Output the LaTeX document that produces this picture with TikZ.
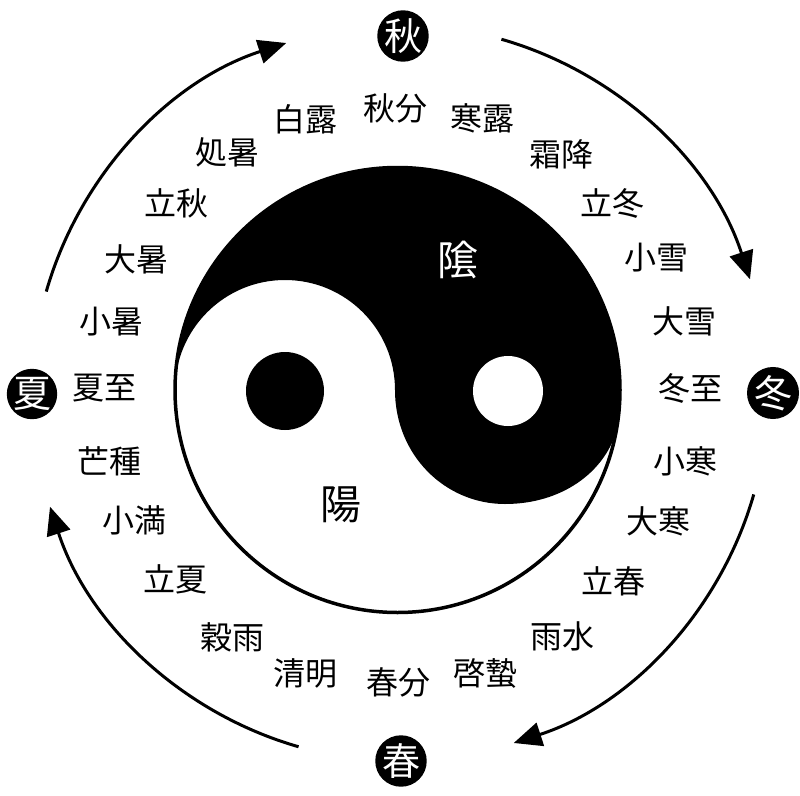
\documentclass[tikz,border=0pt]{standalone}
\usepackage{fontspec}
\newfontfamily\jp{Noto Sans CJK JP}
\usetikzlibrary{arrows.meta}
\begin{document}
\begin{tikzpicture}[x=1pt,y=-1pt,
  term/.style={font=\jp\fontsize{32}{34}\selectfont, inner sep=0pt},
  season/.style={circle, fill=black, minimum size=50pt, inner sep=0pt, text=white, font=\jp\fontsize{38}{40}\selectfont},
  big/.style={font=\jp\fontsize{41}{43}\selectfont, inner sep=0pt},
  cyclearrow/.style={line width=3pt, -{Triangle[length=28pt,width=24pt]}}
]
\useasboundingbox (0,0) rectangle (800,795);
% cycle arrows
\coordinate (C) at (400,393);
\draw[cyclearrow] ([shift={(-164:368)}]C) arc[start angle=-164, end angle=-108, radius=368];
\draw[cyclearrow] ([shift={(-74:368)}]C) arc[start angle=-74, end angle=-18, radius=368];
\draw[cyclearrow] ([shift={(16:368)}]C) arc[start angle=16, end angle=72, radius=368];
\draw[cyclearrow] ([shift={(106:368)}]C) arc[start angle=106, end angle=162, radius=368];
% yin-yang
\fill (395,390) arc[start angle=0, end angle=-180, radius=110]
  arc[start angle=180, end angle=370.9, radius=222.5]
  .. controls (604,472) and (562,504) .. (505,504)
  .. controls (445,504) and (395,455) .. (395,390) -- cycle;
\draw[line width=3.5pt] (397.5,390) circle[radius=222.5];
\fill (285,391) circle[radius=39];
\fill[white] (508,391) circle[radius=35];
\node[big, text=white] (yin) at (458,260) {隂};
\node[big] (yang) at (341,505) {陽};
% seasons
\node[season] (sAut) at (403,36) {秋};
\node[season] (sWin) at (773,393) {冬};
\node[season] (sSpr) at (401,761) {春};
\node[season] (sSum) at (32,394) {夏};
% solar terms
\node[term] (t01) at (395,108) {秋分};
\node[term] (t02) at (482,118) {寒露};
\node[term] (t03) at (561,154) {霜降};
\node[term] (t04) at (612,203) {立冬};
\node[term] (t05) at (656,258) {小雪};
\node[term] (t06) at (684,321) {大雪};
\node[term] (t07) at (690,388) {冬至};
\node[term] (t08) at (685,461) {小寒};
\node[term] (t09) at (658,521) {大寒};
\node[term] (t10) at (613,581) {立春};
\node[term] (t11) at (562,636) {雨水};
\node[term] (t12) at (485,673) {啓蟄};
\node[term] (t13) at (398,682) {春分};
\node[term] (t14) at (305,673) {清明};
\node[term] (t15) at (232,637) {穀雨};
\node[term] (t16) at (175,579) {立夏};
\node[term] (t17) at (134,520) {小満};
\node[term] (t18) at (109,461) {芒種};
\node[term] (t19) at (104,388) {夏至};
\node[term] (t20) at (111,322) {小暑};
\node[term] (t21) at (136,259) {大暑};
\node[term] (t22) at (176,203) {立秋};
\node[term] (t23) at (227,152) {処暑};
\node[term] (t24) at (305,119) {白露};
\end{tikzpicture}
\end{document}
